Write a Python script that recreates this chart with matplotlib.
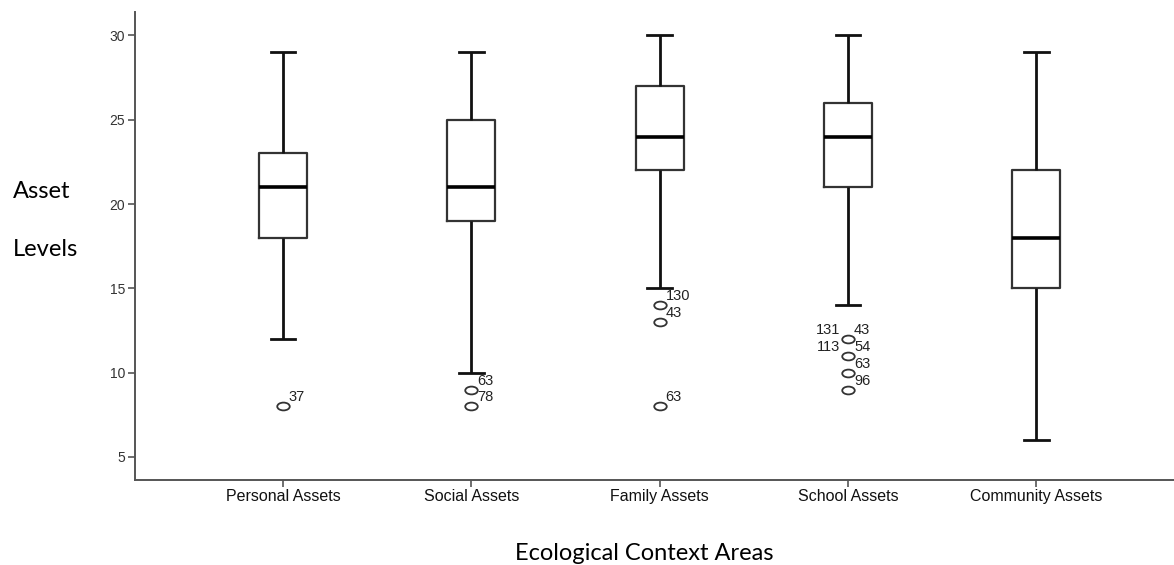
import matplotlib
matplotlib.use("Agg")
import matplotlib.pyplot as plt
from matplotlib.path import Path
from matplotlib.transforms import Affine2D

# ─────────────────────────────────────────────────────────────────────────────
# Data
# ─────────────────────────────────────────────────────────────────────────────

CATEGORIES = ["Personal Assets", "Social Assets", "Family Assets",
              "School Assets", "Community Assets"]
WHISK_LO = [12, 10, 15, 14, 6]
Q1       = [18, 19, 22, 21, 15]
MEDIAN   = [21, 21, 24, 24, 18]
Q3       = [23, 25, 27, 26, 22]
WHISK_HI = [29, 29, 30, 30, 29]
FLIERS   = [[8], [9, 8], [14, 13, 8], [12, 11, 10, 9], []]

# outlier case labels: (box index, value, label, side)
CASE_LABELS = [
    (0, 8, "37", "right"),
    (1, 9, "63", "right"),
    (1, 8, "78", "right"),
    (2, 14, "130", "right"),
    (2, 13, "43", "right"),
    (2, 8, "63", "right"),
    (3, 12, "131", "left"),
    (3, 12, "43", "right"),
    (3, 11, "113", "left"),
    (3, 11, "54", "right"),
    (3, 10, "63", "right"),
    (3, 9, "96", "right"),
]

Y_TICKS = [5, 10, 15, 20, 25, 30]

# ─────────────────────────────────────────────────────────────────────────────
# Style
# ─────────────────────────────────────────────────────────────────────────────

TICK_FONT  = "Liberation Sans"
LABEL_FONT = "Lato"
BOX_COL    = "#333333"
AXIS_COL   = "#555555"

# horizontally stretched circle, as the SPSS output draws it
ELLIPSE = Path.unit_circle().transformed(Affine2D().scale(1.6, 1.0))


def main():
    fig = plt.figure(figsize=(11.74, 5.65), dpi=100)
    ax = fig.add_axes([0.115, 0.150, 0.885, 0.829])

    positions = list(range(1, len(CATEGORIES) + 1))
    stats = []
    for i, name in enumerate(CATEGORIES):
        stats.append({
            "label": name,
            "whislo": WHISK_LO[i], "q1": Q1[i], "med": MEDIAN[i],
            "q3": Q3[i], "whishi": WHISK_HI[i], "fliers": FLIERS[i],
        })

    ax.bxp(
        stats, positions=positions, widths=0.255, capwidths=0.13,
        showfliers=True, patch_artist=False,
        boxprops=dict(color=BOX_COL, lw=1.6),
        medianprops=dict(color="black", lw=2.6),
        whiskerprops=dict(color="#111111", lw=2.0, solid_capstyle="butt"),
        capprops=dict(color="#111111", lw=2.0),
        flierprops=dict(marker=ELLIPSE, markersize=9, markerfacecolor="none",
                        markeredgecolor="#333333", markeredgewidth=1.3),
    )

    # case-number labels next to the outliers
    for idx, val, txt, side in CASE_LABELS:
        if side == "right":
            ax.annotate(txt, (positions[idx], val), xytext=(6, 9),
                        textcoords="offset pixels", ha="left", va="center",
                        fontsize=10.5, family=TICK_FONT, color="#222222")
        else:
            ax.annotate(txt, (positions[idx], val), xytext=(-8, 9),
                        textcoords="offset pixels", ha="right", va="center",
                        fontsize=10.5, family=TICK_FONT, color="#222222")

    ax.set_xlim(0.215, 5.73)
    ax.set_ylim(3.62, 31.4)
    ax.set_yticks(Y_TICKS)
    ax.set_yticklabels([str(v) for v in Y_TICKS], family=TICK_FONT,
                       fontsize=10, color="#333333")
    ax.set_xticks(positions)
    ax.set_xticklabels(CATEGORIES, family=TICK_FONT, fontsize=11.5,
                       color="#111111")

    for side in ("top", "right"):
        ax.spines[side].set_visible(False)
    for side in ("left", "bottom"):
        ax.spines[side].set_color(AXIS_COL)
        ax.spines[side].set_linewidth(1.4)
    ax.tick_params(axis="y", length=5, width=1.2, color=AXIS_COL, pad=2)
    ax.tick_params(axis="x", length=5, width=1.2, color=AXIS_COL, pad=1)

    # axis titles placed as in the reference
    fig.text(0.011, 1 - 191 / 565, "Asset", family=LABEL_FONT, fontsize=17,
             ha="left", va="center")
    fig.text(0.011, 1 - 250 / 565, "Levels", family=LABEL_FONT, fontsize=17,
             ha="left", va="center")
    fig.text(644 / 1174, 1 - 553 / 565, "Ecological Context Areas",
             family=LABEL_FONT, fontsize=17, ha="center", va="center")

    fig.savefig("out.png", dpi=100)
    plt.close(fig)


if __name__ == "__main__":
    main()
